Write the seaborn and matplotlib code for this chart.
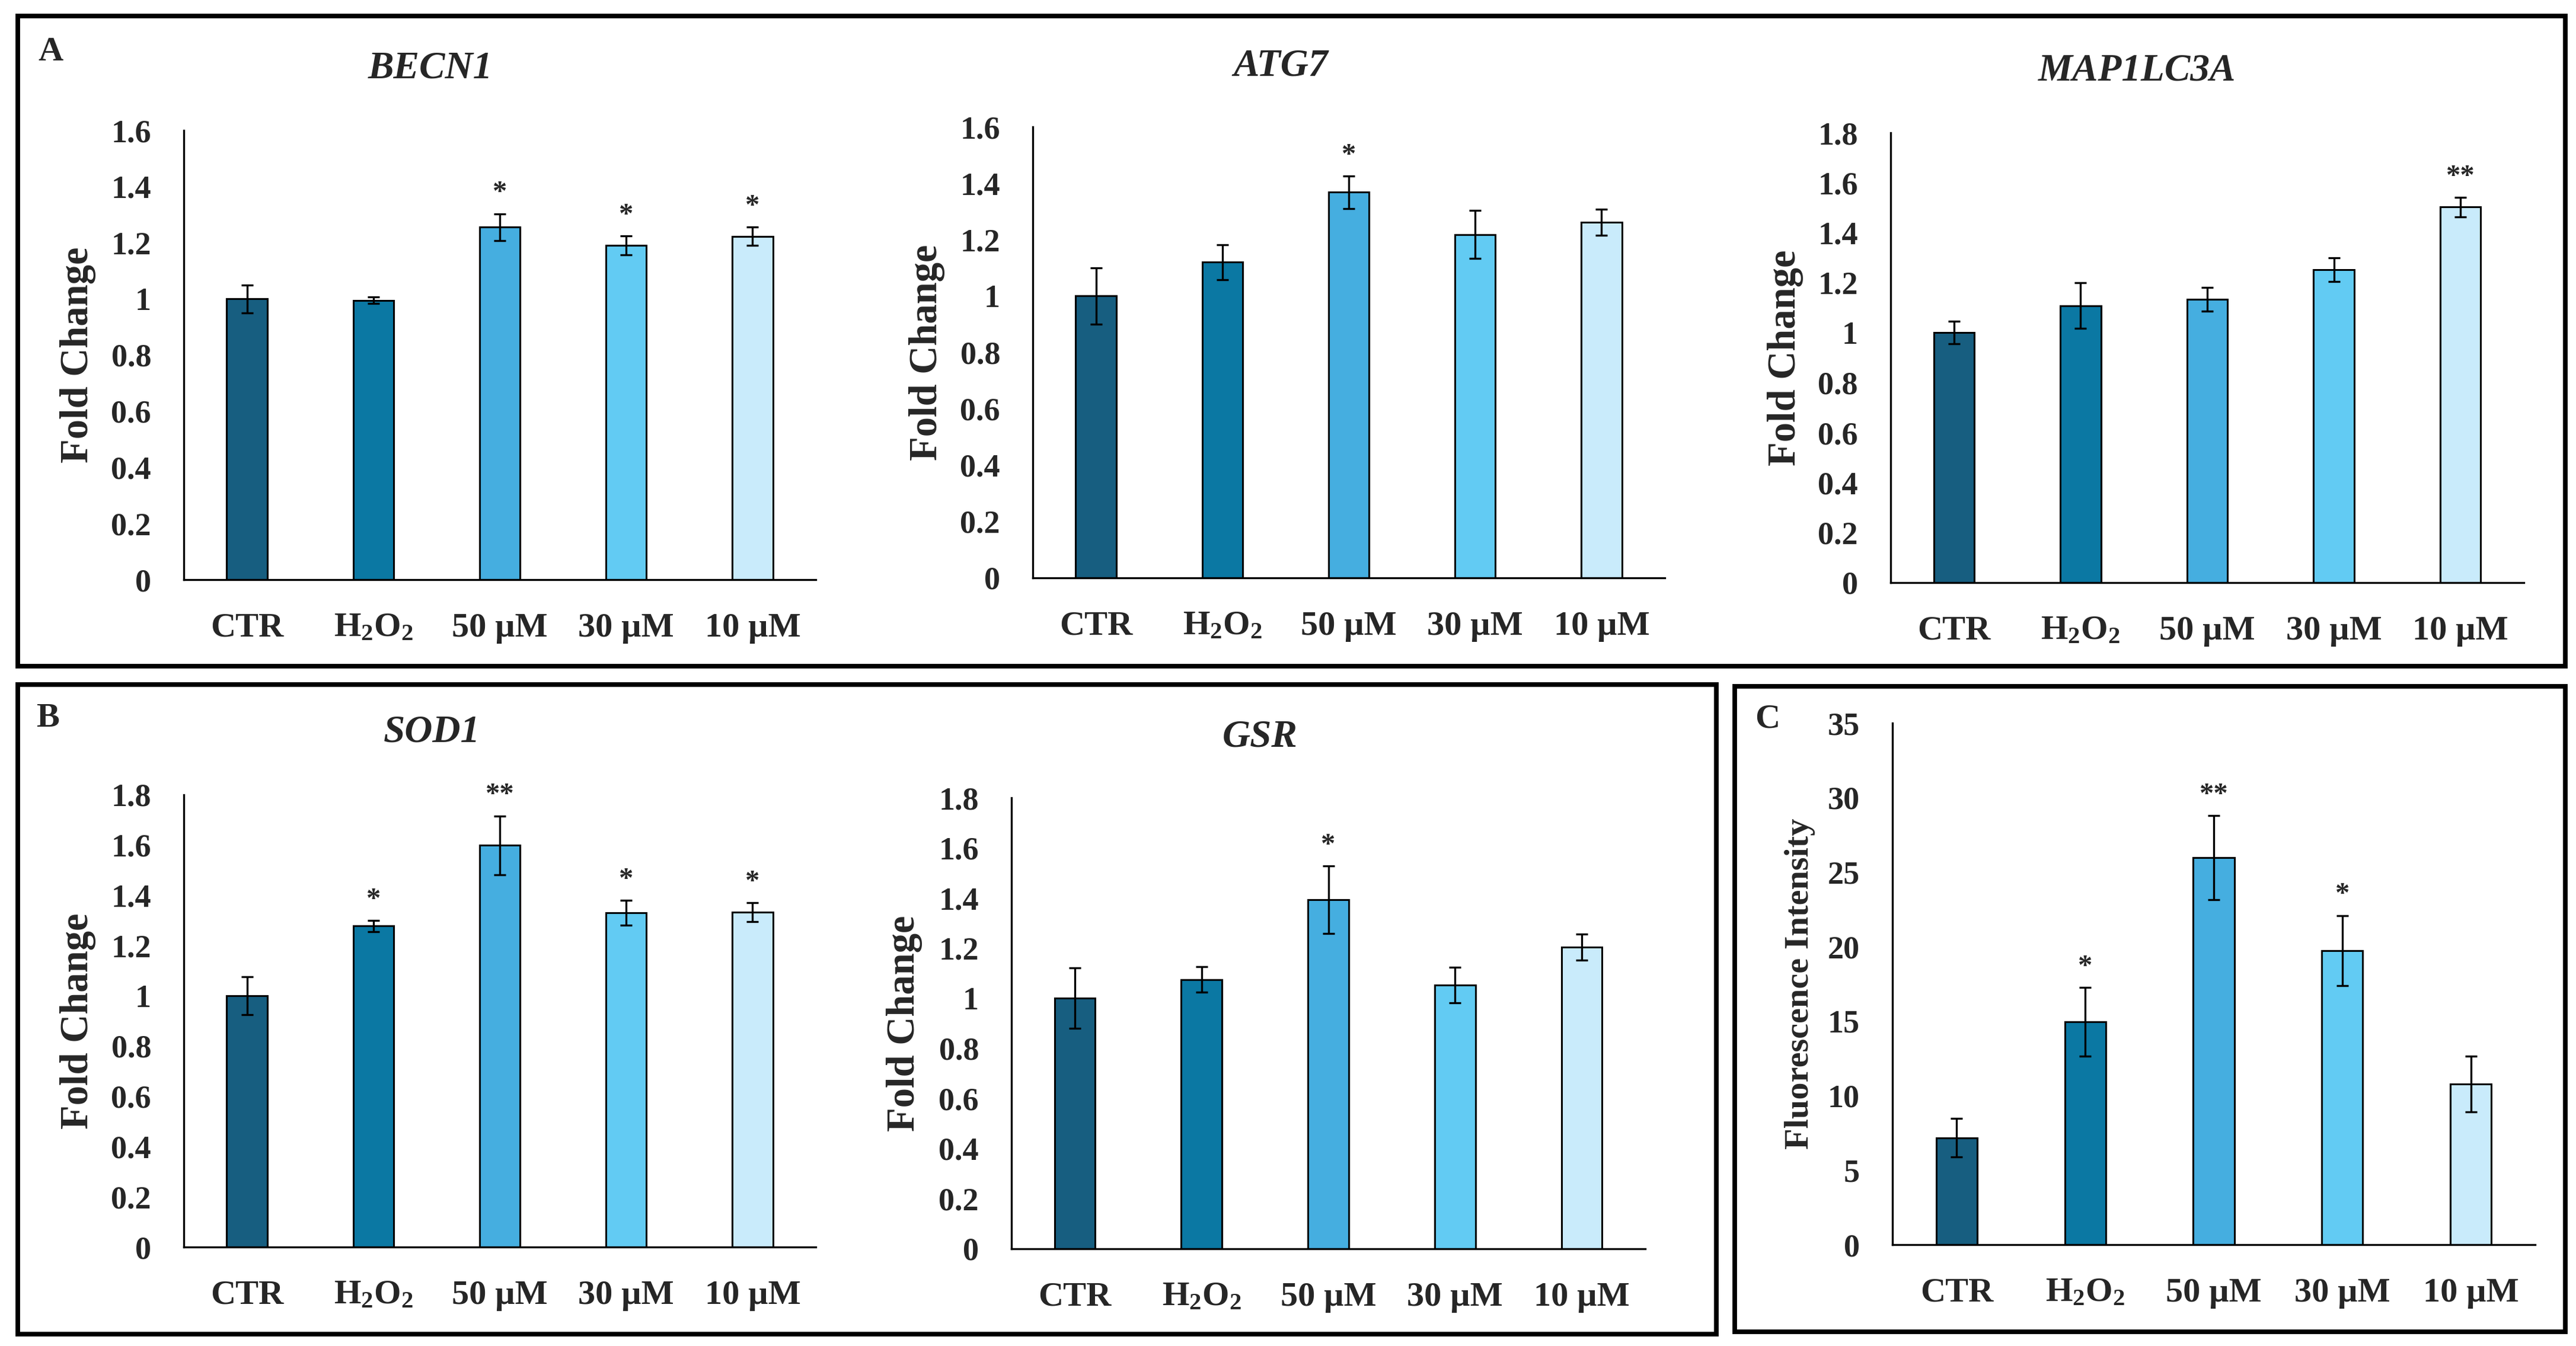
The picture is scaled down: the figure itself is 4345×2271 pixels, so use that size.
import numpy as np
import pandas as pd
import matplotlib
matplotlib.use("Agg")
import matplotlib.pyplot as plt
import seaborn as sns
from matplotlib.patches import Rectangle

# ---------------- data ----------------
categories = ["CTR", "H$_2$O$_2$", "50 µM", "30 µM", "10 µM"]
bar_colors = ["#175E80", "#0B78A3", "#45AEE0", "#62CBF3", "#C9EBFB"]

becn1_mean = [1.00, 0.995, 1.255, 1.19, 1.223]
becn1_err = [0.050, 0.012, 0.048, 0.034, 0.033]
becn1_sig = ["", "", "*", "*", "*"]

atg7_mean = [1.00, 1.12, 1.368, 1.218, 1.261]
atg7_err = [0.100, 0.062, 0.058, 0.085, 0.046]
atg7_sig = ["", "", "*", "", ""]

map1lc3a_mean = [1.00, 1.108, 1.134, 1.252, 1.503]
map1lc3a_err = [0.045, 0.091, 0.048, 0.047, 0.039]
map1lc3a_sig = ["", "", "", "", "**"]

sod1_mean = [1.00, 1.278, 1.599, 1.331, 1.333]
sod1_err = [0.076, 0.022, 0.117, 0.049, 0.038]
sod1_sig = ["", "*", "**", "*", "*"]

gsr_mean = [1.00, 1.075, 1.393, 1.052, 1.204]
gsr_err = [0.120, 0.051, 0.134, 0.071, 0.053]
gsr_sig = ["", "", "*", "", ""]

fluo_mean = [7.17, 14.95, 25.98, 19.73, 10.79]
fluo_err = [1.29, 2.30, 2.82, 2.36, 1.87]
fluo_sig = ["", "*", "**", "*", ""]

yticks_16 = [0, 0.2, 0.4, 0.6, 0.8, 1, 1.2, 1.4, 1.6]
yticks_18 = [0, 0.2, 0.4, 0.6, 0.8, 1, 1.2, 1.4, 1.6, 1.8]
yticks_35 = [0, 5, 10, 15, 20, 25, 30, 35]

# ---------------- style ----------------
sns.set_style("white")
plt.rcParams["font.family"] = ["Liberation Serif", "DejaVu Serif"]
plt.rcParams["font.weight"] = "bold"
plt.rcParams["mathtext.fontset"] = "custom"
plt.rcParams["mathtext.rm"] = "Liberation Serif:bold"
plt.rcParams["mathtext.it"] = "Liberation Serif:italic:bold"
plt.rcParams["mathtext.bf"] = "Liberation Serif:bold"

W, H = 4345, 2271
DPI = 200
fig = plt.figure(figsize=(W / DPI, H / DPI), dpi=DPI)
fig.patch.set_facecolor("white")


def rect(x0, y0, x1, y1):
    return [x0 / W, 1 - y1 / H, (x1 - x0) / W, (y1 - y0) / H]


def draw_panel(box, mean, err, sig, yticks, ylabel, ylab_x, ylab_size):
    ax = fig.add_axes(rect(*box))
    df = pd.DataFrame({"cond": categories, "val": mean})
    sns.barplot(data=df, x="cond", y="val", hue="cond", palette=bar_colors,
                order=categories, hue_order=categories, legend=False,
                saturation=1, width=0.32, edgecolor="black", linewidth=1.1,
                ax=ax, errorbar=None, zorder=2)
    ax.errorbar(np.arange(len(categories)), mean, yerr=err, fmt="none",
                ecolor="black", elinewidth=1.2, capsize=3.5, capthick=1.2,
                zorder=3)
    for i, s in enumerate(sig):
        if s:
            ax.annotate(s, xy=(i, mean[i] + err[i]), xytext=(0, 8),
                        textcoords="offset points", ha="center", va="baseline",
                        fontsize=17.5, fontweight="bold", annotation_clip=False)
    ax.set_xlim(-0.5, len(categories) - 0.5)
    ax.set_ylim(0, yticks[-1])
    ax.set_yticks(yticks)
    ax.set_yticklabels([f"{v:g}" for v in yticks])
    ax.set_xticks(np.arange(len(categories)))
    ax.set_xticklabels(categories)
    ax.set_xticks(np.arange(len(categories) + 1) - 0.5, minor=True)
    ax.tick_params(axis="x", which="major", length=0, pad=20, labelsize=21)
    ax.tick_params(axis="x", which="minor", length=6.8, width=1.2,
                   direction="out", color="black")
    ax.tick_params(axis="y", which="major", length=5.8, width=1.2,
                   direction="out", color="black", pad=14, labelsize=19.5)
    for lab in ax.get_xticklabels() + ax.get_yticklabels():
        lab.set_fontweight("bold")
    for side in ["top", "right"]:
        ax.spines[side].set_visible(False)
    for side in ["left", "bottom"]:
        ax.spines[side].set_color("black")
        ax.spines[side].set_linewidth(1.2)
    ax.set_xlabel("")
    ax.set_ylabel(ylabel, fontsize=ylab_size, fontweight="bold", va="center")
    ax.yaxis.set_label_coords((ylab_x - box[0]) / (box[2] - box[0]), 0.5)
    ax.set_facecolor("white")
    ax.grid(False)
    return ax


draw_panel((310, 220, 1376, 978), becn1_mean, becn1_err, becn1_sig,
           yticks_16, "Fold Change", 131, 24)
draw_panel((1742, 214, 2808, 975), atg7_mean, atg7_err, atg7_sig,
           yticks_16, "Fold Change", 1563, 24)
draw_panel((3189, 224, 4257, 983), map1lc3a_mean, map1lc3a_err, map1lc3a_sig,
           yticks_18, "Fold Change", 3011, 24)
draw_panel((310, 1341, 1376, 2104), sod1_mean, sod1_err, sod1_sig,
           yticks_18, "Fold Change", 131, 24)
draw_panel((1706, 1346, 2775, 2107), gsr_mean, gsr_err, gsr_sig,
           yticks_18, "Fold Change", 1526, 24)
draw_panel((3192, 1220, 4276, 2100), fluo_mean, fluo_err, fluo_sig,
           yticks_35, "Fluorescence Intensity", 3036, 21)

# gene titles
titles = [("BECN1", 726, 115), ("ATG7", 2160, 112), ("MAP1LC3A", 3605, 119),
          ("SOD1", 728, 1236), ("GSR", 2125, 1243)]
for t, x, y in titles:
    fig.text(x / W, 1 - y / H, t, ha="center", va="center", fontsize=23.5,
             fontweight="bold", fontstyle="italic")

# panel letters
for t, x, y in [("A", 85, 88), ("B", 81, 1212), ("C", 2981, 1214)]:
    fig.text(x / W, 1 - y / H, t, ha="center", va="center", fontsize=21,
             fontweight="bold")

# panel frames
for (x0, y0, x1, y1) in [(30, 27, 4327, 1124), (30, 1155, 2895, 2251),
                         (2926, 1158, 4327, 2247)]:
    fig.patches.append(Rectangle((x0 / W, 1 - y1 / H), (x1 - x0) / W,
                                 (y1 - y0) / H, transform=fig.transFigure,
                                 fill=False, edgecolor="black", linewidth=2.8))

fig.savefig("out.png", dpi=DPI, facecolor="white")
